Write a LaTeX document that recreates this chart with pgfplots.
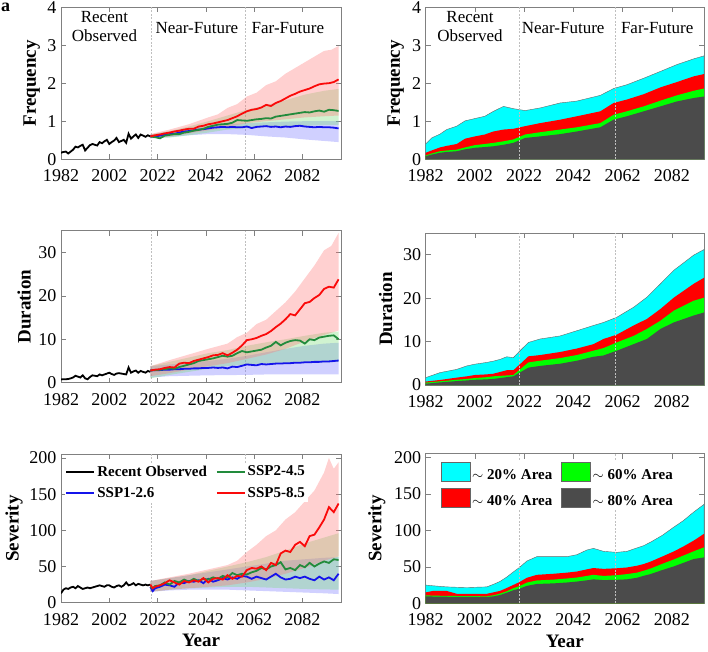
\documentclass[border=0pt]{standalone}
\usepackage{fontspec}
\setmainfont{Liberation Serif}
\usepackage{pgfplots}
\usepackage{pgfplotstable}
\pgfplotsset{compat=1.18}

\definecolor{cR}{RGB}{250,10,10}
\definecolor{cG}{RGB}{34,139,60}
\definecolor{cB}{RGB}{20,20,235}
\definecolor{bandR}{RGB}{255,120,120}
\definecolor{bandG}{RGB}{120,220,120}
\definecolor{bandB}{RGB}{120,120,255}
\definecolor{kArea}{RGB}{75,75,75}
\definecolor{cyanA}{RGB}{0,255,255}
\definecolor{greenA}{RGB}{0,255,0}
\definecolor{redA}{RGB}{255,0,0}

% observed 1982-2019
\pgfplotstableread{
year freq dur sev
1982 0.17 0.75 13
1983 0.19 0.8 18
1984 0.20 0.8 20
1985 0.15 0.85 19
1986 0.20 1.0 21
1987 0.25 1.2 22
1988 0.33 1.6 20
1989 0.31 1.4 23
1990 0.35 1.2 21
1991 0.38 1.7 19
1992 0.23 1.0 20
1993 0.30 0.8 21
1994 0.37 1.3 20
1995 0.40 1.7 21
1996 0.38 1.6 22
1997 0.36 1.5 23
1998 0.45 1.9 24
1999 0.42 1.7 23
2000 0.47 1.9 22
2001 0.51 2.1 24
2002 0.40 2.3 24
2003 0.45 2.0 22
2004 0.49 1.8 21
2005 0.56 2.1 23
2006 0.45 2.2 24
2007 0.48 2.1 22
2008 0.51 2.0 24
2009 0.43 1.9 28
2010 0.67 3.5 24
2011 0.54 2.3 25
2012 0.60 2.6 27
2013 0.65 2.8 24
2014 0.56 2.3 26
2015 0.65 2.7 25
2016 0.62 2.5 24
2017 0.59 2.3 25
2018 0.63 2.7 24
2019 0.60 2.5 25
}\obs

% projections (multi-model mean): b=SSP1-2.6, g=SSP2-4.5, r=SSP5-8.5
\pgfplotstableread{
year b g r
2019 0.60 0.60 0.60
2021 0.60 0.58 0.63
2023 0.62 0.55 0.65
2025 0.64 0.62 0.68
2027 0.66 0.64 0.70
2029 0.67 0.66 0.73
2031 0.70 0.66 0.75
2033 0.73 0.70 0.78
2035 0.74 0.72 0.80
2037 0.76 0.75 0.80
2039 0.78 0.77 0.86
2041 0.79 0.80 0.88
2043 0.81 0.85 0.92
2045 0.83 0.88 0.94
2047 0.84 0.91 0.97
2049 0.85 0.92 1.00
2051 0.84 0.93 1.03
2053 0.85 0.96 1.08
2055 0.84 1.03 1.13
2057 0.84 1.02 1.20
2059 0.86 1.01 1.26
2061 0.82 1.03 1.30
2063 0.85 1.05 1.32
2065 0.86 1.06 1.36
2067 0.87 1.08 1.43
2069 0.85 1.07 1.40
2071 0.86 1.12 1.48
2073 0.84 1.14 1.53
2075 0.86 1.16 1.60
2077 0.85 1.18 1.67
2079 0.87 1.20 1.72
2081 0.88 1.22 1.78
2083 0.86 1.24 1.82
2085 0.85 1.23 1.86
2087 0.84 1.26 1.92
2089 0.85 1.28 1.97
2091 0.84 1.25 1.99
2093 0.84 1.30 2.00
2095 0.83 1.29 2.03
2097 0.81 1.27 2.10
}\freqP

\pgfplotstableread{
year b g r
2019 2.8 2.8 2.8
2021 2.9 2.9 3.0
2023 2.9 3.0 3.1
2025 3.0 3.1 3.4
2027 3.0 3.3 3.6
2029 3.1 3.2 3.5
2031 3.1 3.6 4.4
2033 3.2 3.9 4.6
2035 3.2 4.2 4.5
2037 3.3 4.5 5.0
2039 3.3 5.0 5.3
2041 3.4 5.2 5.6
2043 3.4 5.4 5.9
2045 3.5 5.6 6.3
2047 3.4 5.9 6.4
2049 3.5 6.2 6.8
2051 3.3 6.0 6.3
2053 3.7 6.2 6.9
2055 3.6 6.8 7.6
2057 3.9 7.3 8.6
2059 4.2 7.0 9.8
2061 4.1 7.2 10.0
2063 4.0 7.4 10.3
2065 4.3 7.6 10.8
2067 4.2 8.1 11.2
2069 4.3 8.5 11.9
2071 4.4 9.4 12.8
2073 4.4 8.6 13.6
2075 4.5 9.2 14.6
2077 4.5 9.6 15.8
2079 4.6 9.8 15.5
2081 4.6 9.7 16.9
2083 4.7 9.0 18.3
2085 4.7 10.0 18.6
2087 4.8 9.8 19.5
2089 4.8 10.4 20.2
2091 4.9 10.6 21.6
2093 4.9 10.8 22.1
2095 5.0 10.9 21.9
2097 5.1 10.0 23.8
}\durP

\pgfplotstableread{
year b g r
2019 22 22 25
2020 16 20 20
2021 20 23 22
2023 22 24 24
2025 25 28 27
2027 24 25 31
2029 22 30 28
2031 28 28 25
2033 27 32 30
2035 30 29 28
2037 29 33 31
2039 31 30 29
2041 27 33 34
2043 33 32 28
2045 29 35 33
2047 31 33 34
2049 34 37 32
2051 32 35 38
2053 35 41 33
2055 33 38 37
2057 37 40 36
2059 36 39 45
2061 33 42 48
2063 36 44 47
2065 34 48 50
2067 32 46 45
2069 36 50 55
2071 40 52 52
2073 35 56 68
2075 32 46 72
2077 33 48 70
2079 36 45 80
2081 34 52 84
2083 36 49 78
2085 33 55 92
2087 31 50 94
2089 36 54 104
2091 32 57 115
2093 35 55 132
2095 31 60 125
2097 40 59 137
}\sevP

% area-based series: c=~20%, r=~40%, g=~60%, k=~80% area
\pgfplotstableread{
year c r g k
1982 0.40 0.17 0.10 0.08
1984.4 0.56 0.23 0.15 0.12
1987.8 0.66 0.31 0.21 0.17
1990.5 0.78 0.35 0.23 0.19
1994.6 0.87 0.40 0.25 0.21
1998 1.01 0.54 0.31 0.26
2002 1.07 0.60 0.37 0.30
2006 1.13 0.65 0.40 0.32
2009.5 1.26 0.73 0.43 0.34
2013.6 1.39 0.78 0.47 0.38
2017.6 1.33 0.80 0.52 0.43
2022.4 1.28 0.87 0.65 0.56
2028.5 1.35 0.95 0.71 0.60
2036.6 1.48 1.04 0.78 0.66
2043.4 1.53 1.13 0.84 0.73
2052.9 1.68 1.26 0.95 0.84
2058.3 1.86 1.48 1.17 1.04
2063.7 1.96 1.57 1.26 1.13
2070.5 2.13 1.71 1.39 1.26
2077.3 2.31 1.89 1.54 1.39
2084 2.49 2.03 1.68 1.52
2090.8 2.64 2.18 1.80 1.61
2095 2.72 2.24 1.86 1.65
}\freqA

\pgfplotstableread{
year c r g k
1982 1.7 0.8 0.55 0.3
1987.8 2.85 1.16 0.85 0.6
1994.6 3.6 1.7 1.2 0.9
1998.7 4.4 2.0 1.4 1.05
2002 4.8 2.3 1.6 1.2
2006.8 5.2 2.45 1.8 1.3
2009.5 5.5 2.6 2.0 1.4
2012.2 5.9 3.0 2.1 1.6
2014.9 6.5 3.4 2.2 1.8
2017.6 6.3 3.4 2.3 2.0
2020.3 7.9 4.8 3.6 2.9
2023.7 9.8 6.6 5.2 4.0
2028.5 10.6 6.9 5.6 4.4
2036.6 11.3 7.6 6.2 4.9
2043.4 12.5 8.4 6.9 5.6
2050.1 13.7 9.4 7.9 6.5
2054.2 14.4 10.6 8.5 6.8
2059.6 15.6 11.6 9.8 7.9
2066.4 17.9 13.7 11.3 9.4
2071.8 20.2 15.2 12.9 10.6
2077.3 23.3 17.5 14.8 12.9
2082.7 26.4 20.1 17.1 14.4
2090.8 29.9 23.3 19.4 16.0
2095 31.2 24.7 20.1 16.7
}\durA

\pgfplotstableread{
year c r g k
1982 25 15 11 9.6
1985 24 17 10.5 9.3
1990.5 22.5 17 10.2 9.0
1994.6 22 13 10 8.8
1998.7 21.6 13 9.8 8.7
2006.8 22.5 13 9.6 8.6
2009.5 26 15 11 9.5
2012.2 30 17 13.3 11.4
2014.9 36 21 16.5 14.5
2017.6 43 25.2 20.7 17.9
2020 49 29 23.5 20
2023.1 58 35 28.4 23.9
2027.1 63.9 39 31.3 26.5
2033.9 63.9 40.5 32.5 27.3
2039.3 63.9 42 34 28.5
2043.4 66.6 43.6 35.3 29.8
2047.4 73 46.5 37.5 31.5
2050.1 75.3 48.3 39 32.8
2054.2 71.2 47.2 37.5 31.8
2059.6 69.8 48 38.5 32.2
2063.7 71.2 49.1 40 32.8
2067.8 75.9 51.5 42 35
2070.5 79 53.8 44.6 37.7
2073.2 83.6 57 47.5 40
2078 93 64 54 45.5
2082.7 104.3 71 60 50.5
2086.7 113.5 78 65.5 55.5
2090.8 125 85.9 71.2 60.7
2095 135.6 95.2 76.7 62.9
}\sevA

\tikzset{ann/.style={align=center, font=\fontsize{17}{19}\selectfont}}
\pgfplotsset{
  base/.style={
    scale only axis,
    xtick={1982,2002,2022,2042,2062,2082},
    axis line style={black!50, line width=0.6pt},
    every tick/.style={black!50, line width=0.6pt},
    major tick length=5pt,
    tick label style={font=\fontsize{18}{18}\selectfont, black},
    /pgf/number format/assume math mode=true,
    /pgf/number format/1000 sep={},
    xticklabel style={yshift=-7pt},
    yticklabel style={xshift=-1pt},
    label style={font=\bfseries\fontsize{19}{19}\selectfont},
    xlabel style={at={(axis description cs:0.5,-0.255)}, anchor=center},
  },
  leftax/.style={base, width=280pt, xmin=1982, xmax=2098},
  rightax/.style={base, width=278.3pt, xmin=1982, xmax=2095},
  vline/.style={dash pattern=on 2pt off 1.5pt, black!25, line width=0.5pt, forget plot},
  obsline/.style={black, line width=1.8pt, forget plot},
  ssp/.style={line width=1.8pt, forget plot},
  band/.style={fill opacity=0.35, draw=none, forget plot},
  area/.style={draw=none, forget plot},
}

\begin{document}
\begin{tikzpicture}
\path[use as bounding box] (0,0) rectangle (708pt,651pt);
\node[anchor=north west, font=\bfseries\fontsize{18}{18}\selectfont, inner sep=0pt] at (1pt,648pt) {a};

% ---------- left, frequency
\begin{axis}[leftax, at={(61pt,491.8pt)}, anchor=south west, height=152pt,
  ymin=0, ymax=4, ytick={0,1,2,3,4}, ylabel={Frequency},
  ylabel style={at={(axis description cs:-0.105,0.5)}, anchor=center}]
\addplot[vline] coordinates {(2019.5,0) (2019.5,4)};
\addplot[vline] coordinates {(2058.5,0) (2058.5,4)};
\addplot[band, fill=bandB] coordinates {(2019,0.65)(2027,0.72)(2035,0.82)(2043,0.88)(2051,0.92)(2059,0.95)(2067,0.97)(2075,0.99)(2083,1.00)(2091,1.00)(2097,1.00)
  (2097,0.45)(2091,0.48)(2083,0.52)(2075,0.57)(2067,0.60)(2059,0.64)(2051,0.66)(2043,0.66)(2035,0.63)(2027,0.58)(2019,0.55)} -- cycle;
\addplot[band, fill=bandG] coordinates {(2019,0.65)(2027,0.74)(2035,0.86)(2043,1.0)(2051,1.15)(2059,1.3)(2067,1.42)(2075,1.55)(2083,1.7)(2091,1.8)(2097,1.85)
  (2097,0.9)(2091,0.9)(2083,0.88)(2075,0.87)(2067,0.85)(2059,0.82)(2051,0.78)(2043,0.7)(2035,0.63)(2027,0.57)(2019,0.55)} -- cycle;
\addplot[band, fill=bandR] coordinates {(2019,0.66)(2027,0.78)(2035,0.92)(2043,1.1)(2047,1.18)(2051,1.35)(2055,1.45)(2059,1.65)(2063,1.75)(2067,1.95)(2071,2.05)(2075,2.25)(2079,2.4)(2083,2.55)(2087,2.7)(2091,2.85)(2094,2.88)(2097,2.98)
  (2097,1.15)(2091,1.13)(2083,1.1)(2075,1.05)(2067,1.0)(2059,0.95)(2051,0.85)(2043,0.76)(2035,0.68)(2027,0.6)(2019,0.57)} -- cycle;
\addplot[obsline] table[x=year,y=freq]{\obs};
\addplot[ssp, cB] table[x=year,y=b]{\freqP};
\addplot[ssp, cG] table[x=year,y=g]{\freqP};
\addplot[ssp, cR] table[x=year,y=r]{\freqP};
\node[ann] at (axis cs:2000,3.48) {Recent\\Observed};
\node[ann] at (axis cs:2038.3,3.46) {Near-Future};
\node[ann] at (axis cs:2076,3.46) {Far-Future};
\end{axis}

% ---------- right, frequency
\begin{axis}[rightax, at={(425.7pt,491.8pt)}, anchor=south west, height=152pt,
  ymin=0, ymax=4, ytick={0,1,2,3,4}, ylabel={Frequency},
  ylabel style={at={(axis description cs:-0.108,0.5)}, anchor=center}]
\addplot[area, fill=cyanA, draw=black!60, line width=0.4pt] table[x=year,y=c]{\freqA} \closedcycle;
\addplot[area, fill=redA] table[x=year,y=r]{\freqA} \closedcycle;
\addplot[area, fill=greenA] table[x=year,y=g]{\freqA} \closedcycle;
\addplot[area, fill=kArea] table[x=year,y=k]{\freqA} \closedcycle;
\addplot[vline] coordinates {(2020,0) (2020,4)};
\addplot[vline] coordinates {(2059,0) (2059,4)};
\node[ann] at (axis cs:2000,3.48) {Recent\\Observed};
\node[ann] at (axis cs:2037.8,3.46) {Near-Future};
\node[ann] at (axis cs:2076,3.46) {Far-Future};
\end{axis}

% ---------- left, duration
\begin{axis}[leftax, at={(61pt,268.3pt)}, anchor=south west, height=152pt,
  ymin=0, ymax=35, ytick={0,10,20,30}, ylabel={Duration},
  ylabel style={at={(axis description cs:-0.132,0.5)}, anchor=center}]
\addplot[vline] coordinates {(2019.5,0) (2019.5,35)};
\addplot[vline] coordinates {(2058.5,0) (2058.5,35)};
\addplot[band, fill=bandB] coordinates {(2019,3.8)(2027,4.2)(2035,4.6)(2043,5.0)(2051,5.5)(2059,6.2)(2067,7.0)(2075,7.8)(2083,8.5)(2091,9.0)(2097,9.2)
  (2097,1.9)(2083,1.9)(2067,1.9)(2059,1.8)(2043,1.7)(2035,1.6)(2027,1.5)(2019,1.2)} -- cycle;
\addplot[band, fill=bandG] coordinates {(2019,3.8)(2027,4.8)(2035,5.8)(2043,6.8)(2051,7.5)(2059,8.5)(2067,9.3)(2075,10.0)(2083,10.8)(2091,11.5)(2097,11.8)
  (2097,4.8)(2091,4.7)(2083,4.6)(2075,4.5)(2067,4.4)(2059,4.2)(2051,3.8)(2043,3.2)(2035,2.5)(2027,1.8)(2019,1.0)} -- cycle;
\addplot[band, fill=bandR] coordinates {(2019,3.8)(2027,5.2)(2035,6.5)(2043,7.8)(2051,9.0)(2055,10.5)(2059,11.5)(2063,13.5)(2067,14.5)(2071,16.5)(2075,18.5)(2079,21)(2083,24.0)(2087,27)(2091,30.5)(2094,31.5)(2097,34.5)
  (2097,12.0)(2091,11.0)(2083,9.5)(2075,7.8)(2067,6.5)(2059,5.5)(2051,4.5)(2043,3.8)(2035,3.0)(2027,2.2)(2019,1.5)} -- cycle;
\addplot[obsline] table[x=year,y=dur]{\obs};
\addplot[ssp, cB] table[x=year,y=b]{\durP};
\addplot[ssp, cG] table[x=year,y=g]{\durP};
\addplot[ssp, cR] table[x=year,y=r]{\durP};
\end{axis}

% ---------- right, duration
\begin{axis}[rightax, at={(425.7pt,266pt)}, anchor=south west, height=152pt,
  ymin=0, ymax=35, ytick={0,10,20,30}, ylabel={Duration},
  ylabel style={at={(axis description cs:-0.144,0.5)}, anchor=center}]
\addplot[area, fill=cyanA, draw=black!60, line width=0.4pt] table[x=year,y=c]{\durA} \closedcycle;
\addplot[area, fill=redA] table[x=year,y=r]{\durA} \closedcycle;
\addplot[area, fill=greenA] table[x=year,y=g]{\durA} \closedcycle;
\addplot[area, fill=kArea] table[x=year,y=k]{\durA} \closedcycle;
\addplot[vline] coordinates {(2020,0) (2020,35)};
\addplot[vline] coordinates {(2059,0) (2059,35)};
\end{axis}

% ---------- left, severity
\begin{axis}[leftax, at={(61pt,48.3pt)}, anchor=south west, height=148.4pt,
  ymin=0, ymax=205, ytick={0,50,100,150,200}, ylabel={Severity}, xlabel={Year},
  ylabel style={at={(axis description cs:-0.168,0.5)}, anchor=center},
  legend columns=2,
  legend image code/.code={\draw[#1] plot coordinates {(0pt,0pt) (28pt,0pt)};},
  legend style={at={(0.012,0.945)}, anchor=north west, draw=none, fill=white,
    font=\bfseries\fontsize{15}{15}\selectfont, inner sep=1pt, row sep=6pt,
    /tikz/every even column/.append style={column sep=7pt}},
  legend cell align=left]
\addplot[vline] coordinates {(2019.5,0) (2019.5,205)};
\addplot[vline] coordinates {(2058.5,0) (2058.5,205)};
\addplot[band, fill=bandB] coordinates {(2019,30)(2027,34)(2035,38)(2043,42)(2051,46)(2059,50)(2067,54)(2075,58)(2083,60)(2091,62)(2097,63)
  (2097,12)(2091,13)(2083,14)(2075,15)(2067,16)(2059,17)(2051,18)(2035,18)(2027,17)(2019,15)} -- cycle;
\addplot[band, fill=bandG] coordinates {(2019,30)(2027,34)(2035,38)(2043,44)(2051,50)(2059,56)(2067,63)(2075,72)(2083,82)(2091,90)(2097,96)
  (2097,18)(2083,19)(2075,20)(2067,21)(2059,22)(2051,22)(2043,21)(2035,20)(2027,18)(2019,15)} -- cycle;
\addplot[band, fill=bandR] coordinates {(2019,30)(2027,35)(2035,40)(2043,46)(2051,52)(2055,58)(2059,70)(2063,80)(2067,92)(2071,100)(2075,115)(2079,125)(2083,140)(2087,155)(2091,180)(2093,200)(2095,185)(2097,194)
  (2097,64)(2091,58)(2083,48)(2075,40)(2067,33)(2059,28)(2051,24)(2043,22)(2035,20)(2027,18)(2019,15)} -- cycle;
\addplot[obsline] table[x=year,y=sev]{\obs};
\addplot[ssp, cB] table[x=year,y=b]{\sevP};
\addplot[ssp, cG] table[x=year,y=g]{\sevP};
\addplot[ssp, cR] table[x=year,y=r]{\sevP};
\addlegendimage{black, line width=1.8pt}
\addlegendentry{Recent Observed}
\addlegendimage{cG, line width=1.8pt}
\addlegendentry{SSP2-4.5}
\addlegendimage{cB, line width=1.8pt}
\addlegendentry{SSP1-2.6}
\addlegendimage{cR, line width=1.8pt}
\addlegendentry{SSP5-8.5}
\end{axis}

% ---------- right, severity
\begin{axis}[rightax, at={(425.7pt,47.7pt)}, anchor=south west, height=149.6pt,
  ymin=0, ymax=205, ytick={0,50,100,150,200}, ylabel={Severity}, xlabel={Year},
  ylabel style={at={(axis description cs:-0.176,0.5)}, anchor=center},
  legend columns=2,
  legend image code/.code={\draw[#1, draw=black!60, line width=0.4pt] (0pt,-6pt) rectangle (29pt,13pt);},
  legend style={at={(0.05,0.95)}, anchor=north west, draw=none, fill=white,
    font=\bfseries\fontsize{15}{15}\selectfont, inner sep=1pt, row sep=5pt,
    /tikz/every even column/.append style={column sep=7pt}},
  legend cell align=left]
\addplot[area, fill=cyanA, draw=black!60, line width=0.4pt] table[x=year,y=c]{\sevA} \closedcycle;
\addplot[area, fill=redA] table[x=year,y=r]{\sevA} \closedcycle;
\addplot[area, fill=greenA] table[x=year,y=g]{\sevA} \closedcycle;
\addplot[area, fill=kArea] table[x=year,y=k]{\sevA} \closedcycle;
\addplot[vline] coordinates {(2020,0) (2020,205)};
\addplot[vline] coordinates {(2059,0) (2059,205)};
\addlegendimage{fill=cyanA}
\addlegendentry{$\sim$ 20\% Area}
\addlegendimage{fill=greenA}
\addlegendentry{$\sim$ 60\% Area}
\addlegendimage{fill=redA}
\addlegendentry{$\sim$ 40\% Area}
\addlegendimage{fill=kArea}
\addlegendentry{$\sim$ 80\% Area}
\end{axis}
\end{tikzpicture}
\end{document}
